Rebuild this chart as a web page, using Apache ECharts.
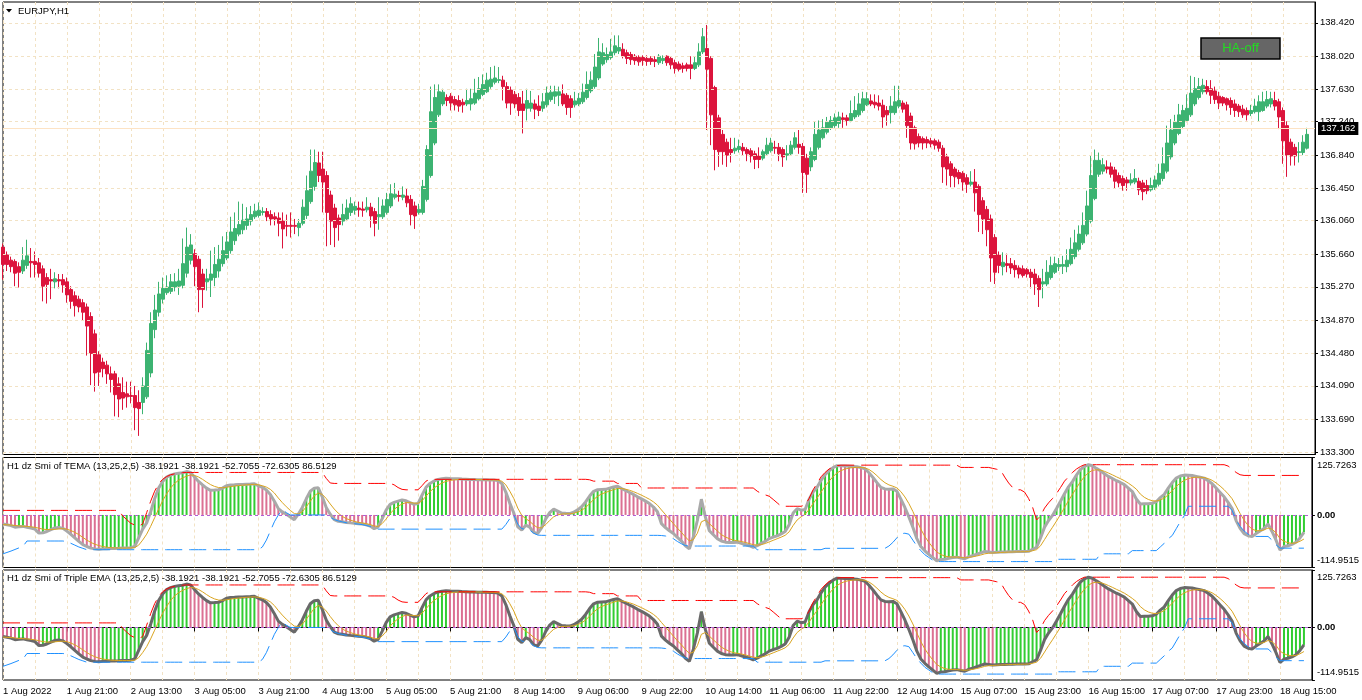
<!DOCTYPE html>
<html>
<head>
<meta charset="utf-8">
<script src="https://cdn.jsdelivr.net/npm/echarts@6.0.0/dist/echarts.min.js"></script>
<style>html,body{margin:0;padding:0;background:#fff}#c{width:1362px;height:700px}</style>
</head>
<body>
<div id="c"></div>
<script>
const rep = (v, n) => Array(n).fill(v);

const SYMBOL = 'EURJPY,H1';
const PANE1_TITLE = 'H1 dz Smi of TEMA (13,25,2,5) -38.1921 -38.1921 -52.7055 -72.6305 86.5129';
const PANE2_TITLE = 'H1 dz Smi of Triple EMA (13,25,2,5) -38.1921 -38.1921 -52.7055 -72.6305 86.5129';
const CURRENT_PRICE = 137.162;

const TICK_LABELS = ['1 Aug 2022','1 Aug 21:00','2 Aug 13:00','3 Aug 05:00','3 Aug 21:00','4 Aug 13:00','5 Aug 05:00','5 Aug 21:00','8 Aug 14:00','9 Aug 06:00','9 Aug 22:00','10 Aug 14:00','11 Aug 06:00','11 Aug 22:00','12 Aug 14:00','15 Aug 07:00','15 Aug 23:00','16 Aug 15:00','17 Aug 07:00','17 Aug 23:00','18 Aug 15:00'];
const PRICE_TICKS = [133.300,133.690,134.090,134.480,134.870,135.270,135.660,136.060,136.450,136.840,137.240,137.630,138.020,138.420];
const PANE_TICKS = [-114.9515, 0, 125.7263];

const OPEN = [
135.744,135.651,135.588,135.573,135.511,135.459,135.526,135.573,135.573,135.557,
135.485,135.381,135.356,135.330,135.356,135.356,135.330,135.237,135.164,135.123,
135.081,135.030,134.916,134.709,134.460,134.372,134.336,134.232,134.232,134.113,
134.010,133.994,133.974,133.974,133.891,133.891,133.958,134.243,134.760,134.967,
135.123,135.200,135.216,135.268,135.278,135.288,135.433,135.588,135.666,135.599,
135.423,135.330,135.350,135.381,135.459,135.547,135.614,135.702,135.821,135.899,
135.951,136.003,136.054,136.106,136.122,136.158,136.168,136.132,136.106,136.091,
136.054,136.003,136.003,136.003,135.977,136.028,136.122,136.287,136.468,136.748,
136.675,136.598,136.365,136.210,136.091,136.054,136.080,136.158,136.184,136.210,
136.199,136.189,136.220,136.168,136.106,136.106,136.158,136.235,136.339,136.360,
136.339,136.354,136.313,136.235,136.158,136.158,136.313,136.598,136.986,137.322,
137.452,137.529,137.545,137.504,137.493,137.472,137.452,137.452,137.462,137.514,
137.566,137.597,137.659,137.711,137.731,137.736,137.659,137.617,137.566,137.529,
137.452,137.400,137.400,137.452,137.426,137.400,137.441,137.504,137.545,137.555,
137.571,137.555,137.514,137.441,137.452,137.478,137.529,137.607,137.659,137.762,
137.928,137.980,138.006,138.063,138.083,138.104,138.063,138.042,138.021,138.006,
138.006,137.995,137.995,137.980,137.944,137.969,138.021,137.995,137.944,137.928,
137.907,137.918,137.918,137.876,137.918,138.073,138.114,137.995,137.648,137.286,
137.089,136.996,136.908,136.893,136.908,136.934,136.908,136.893,136.857,136.831,
136.805,136.857,136.893,136.934,136.934,136.908,136.841,136.857,136.934,136.970,
136.945,136.805,136.701,136.789,136.934,137.048,137.115,137.167,137.193,137.219,
137.286,137.286,137.255,137.297,137.322,137.374,137.441,137.488,137.472,137.462,
137.436,137.374,137.348,137.348,137.426,137.462,137.441,137.307,137.167,137.064,
137.038,137.027,137.012,137.012,136.996,136.924,136.820,136.738,136.675,136.634,
136.624,136.572,136.494,136.520,136.468,136.298,136.194,136.080,135.858,135.651,
135.511,135.547,135.547,135.526,135.495,135.485,135.475,135.444,135.423,135.371,
135.304,135.304,135.381,135.444,135.511,135.516,135.511,135.547,135.630,135.718,
135.795,135.899,136.054,136.323,136.613,136.650,136.701,136.701,136.665,136.598,
136.562,136.546,136.510,136.520,136.530,136.510,136.479,136.427,136.458,136.494,
136.562,136.650,136.820,136.986,137.100,137.183,137.255,137.322,137.452,137.529,
137.597,137.659,137.633,137.607,137.545,137.529,137.514,137.493,137.452,137.426,
137.390,137.374,137.338,137.359,137.359,137.374,137.426,137.452,137.493,137.478,
137.374,137.193,136.996,136.934,136.872,136.872,136.924];

const CLOSE = [
135.537,135.537,135.511,135.433,135.444,135.588,135.640,135.557,135.537,135.433,
135.278,135.299,135.340,135.366,135.340,135.293,135.174,135.097,135.045,135.030,
134.967,134.802,134.476,134.243,134.253,134.294,134.232,134.165,133.984,133.932,
133.943,133.958,133.963,133.829,133.818,134.088,134.512,134.833,134.993,135.185,
135.252,135.268,135.330,135.330,135.340,135.547,135.744,135.770,135.511,135.237,
135.237,135.366,135.423,135.537,135.599,135.702,135.806,135.925,135.966,136.013,
136.065,136.080,136.132,136.173,136.184,136.168,136.106,136.080,136.080,136.028,
135.961,135.992,135.992,135.992,136.028,136.220,136.417,136.650,136.753,136.598,
136.520,136.158,136.054,135.977,136.013,136.132,136.210,136.261,136.230,136.189,
136.184,136.220,136.116,136.028,136.132,136.235,136.313,136.380,136.375,136.349,
136.365,136.272,136.132,136.116,136.194,136.468,136.908,137.359,137.529,137.597,
137.592,137.493,137.462,137.441,137.426,137.441,137.493,137.514,137.581,137.633,
137.685,137.736,137.747,137.762,137.742,137.659,137.462,137.462,137.452,137.374,
137.374,137.493,137.462,137.390,137.374,137.478,137.581,137.592,137.597,137.597,
137.452,137.410,137.410,137.488,137.519,137.592,137.685,137.736,137.892,138.073,
138.063,138.042,138.073,138.145,138.125,138.021,137.995,137.980,137.969,137.954,
137.969,137.959,137.959,137.959,138.021,137.995,137.944,137.918,137.876,137.866,
137.876,137.876,137.876,137.944,138.073,138.254,137.866,137.322,136.908,136.882,
136.882,136.841,136.872,136.924,136.945,136.893,136.857,136.831,136.789,136.789,
136.882,136.960,136.986,136.924,136.857,136.820,136.857,136.960,137.048,136.934,
136.634,136.613,136.882,137.089,137.141,137.167,137.234,137.255,137.286,137.297,
137.265,137.255,137.338,137.374,137.452,137.514,137.514,137.452,137.441,137.426,
137.297,137.322,137.426,137.478,137.493,137.390,137.193,136.986,136.976,136.986,
136.986,136.986,136.976,136.960,136.924,136.701,136.675,136.598,136.582,136.562,
136.520,136.494,136.520,136.391,136.132,136.080,135.951,135.614,135.444,135.526,
135.563,135.526,135.495,135.475,135.423,135.407,135.423,135.381,135.304,135.237,
135.330,135.444,135.526,135.547,135.537,135.537,135.588,135.718,135.795,135.899,
136.003,136.235,136.598,136.779,136.779,136.727,136.675,136.613,136.530,136.510,
136.479,136.510,136.546,136.562,136.427,136.406,136.417,136.479,136.546,136.624,
136.738,136.986,137.141,137.234,137.322,137.374,137.400,137.581,137.633,137.659,
137.674,137.597,137.555,137.504,137.462,137.462,137.441,137.410,137.374,137.359,
137.322,137.322,137.374,137.426,137.478,137.478,137.504,137.514,137.426,137.297,
137.012,136.841,136.831,136.831,136.882,136.996,137.089];

const LOW = [
135.356,135.459,135.444,135.278,135.262,135.423,135.485,135.381,135.381,135.381,
135.097,135.071,135.123,135.252,135.252,135.200,135.081,135.009,134.916,134.967,
134.864,134.450,134.098,134.020,134.088,134.191,134.113,134.010,133.725,133.715,
133.803,133.829,133.880,133.560,133.492,133.751,133.932,134.191,134.657,134.916,
135.071,135.174,135.185,135.216,135.174,135.252,135.381,135.537,135.278,134.967,
135.019,135.226,135.149,135.278,135.381,135.511,135.588,135.666,135.770,135.873,
135.899,135.951,136.003,136.080,136.096,136.122,136.054,136.003,136.003,135.873,
135.728,135.873,135.858,135.899,135.873,136.003,136.080,136.261,136.417,136.520,
136.158,135.754,135.770,135.744,135.821,136.003,136.054,136.116,136.132,136.106,
136.106,136.158,135.977,135.873,135.951,136.080,136.132,136.210,136.313,136.287,
136.303,136.220,136.003,135.961,136.132,136.132,136.287,136.572,136.960,137.296,
137.426,137.426,137.374,137.374,137.359,137.348,137.426,137.374,137.441,137.493,
137.545,137.581,137.633,137.685,137.700,137.493,137.400,137.322,137.400,137.307,
137.100,137.255,137.359,137.271,137.307,137.359,137.410,137.478,137.452,137.426,
137.426,137.322,137.286,137.410,137.426,137.452,137.504,137.581,137.633,137.736,
137.907,137.944,137.980,138.032,138.047,137.995,137.928,137.918,137.918,137.907,
137.907,137.907,137.918,137.892,137.918,137.928,137.907,137.866,137.814,137.840,
137.824,137.840,137.747,137.856,137.892,138.047,137.141,136.960,136.660,136.701,
136.727,136.701,136.753,136.857,136.872,136.831,136.769,136.753,136.675,136.686,
136.779,136.831,136.872,136.857,136.769,136.701,136.779,136.831,136.908,136.857,
136.391,136.391,136.650,136.769,136.908,137.027,137.089,137.141,137.167,137.167,
137.167,137.193,137.234,137.271,137.297,137.348,137.426,137.426,137.400,137.374,
137.167,137.193,137.219,137.322,137.400,137.348,137.048,136.908,136.908,136.934,
136.908,136.924,136.934,136.908,136.882,136.510,136.479,136.458,136.458,136.494,
136.417,136.391,136.468,136.168,135.925,135.899,135.754,135.330,135.304,135.433,
135.407,135.444,135.423,135.381,135.371,135.381,135.381,135.252,135.174,135.030,
135.133,135.278,135.356,135.423,135.459,135.423,135.444,135.526,135.599,135.692,
135.770,135.873,136.028,136.303,136.582,136.613,136.624,136.572,136.443,136.458,
136.417,136.417,136.479,136.494,136.365,136.303,136.375,136.406,136.427,136.468,
136.530,136.624,136.789,136.960,137.079,137.152,137.234,137.297,137.426,137.504,
137.566,137.566,137.452,137.452,137.390,137.426,137.374,137.322,137.297,137.297,
137.286,137.255,137.307,137.338,137.245,137.359,137.400,137.410,137.374,137.152,
136.738,136.582,136.717,136.717,136.753,136.841,136.908];

const HIGH = [
135.785,135.692,135.630,135.599,135.562,135.744,135.832,135.733,135.692,135.614,
135.526,135.433,135.485,135.444,135.423,135.423,135.381,135.278,135.216,135.164,
135.123,135.071,134.967,134.760,134.502,134.424,134.388,134.320,134.268,134.191,
134.191,134.139,134.139,134.088,134.036,134.191,134.605,134.967,135.174,135.330,
135.381,135.407,135.423,135.433,135.485,135.847,135.977,135.899,135.718,135.640,
135.485,135.485,135.702,135.744,135.770,135.873,135.925,136.106,136.158,136.287,
136.261,136.220,136.235,136.261,136.277,136.220,136.210,136.184,136.158,136.158,
136.158,136.132,136.158,136.080,136.080,136.313,136.598,136.908,136.908,136.882,
136.882,136.650,136.417,136.261,136.132,136.261,136.313,136.339,136.287,136.287,
136.287,136.339,136.272,136.210,136.339,136.313,136.391,136.494,136.510,136.417,
136.468,136.443,136.365,136.287,136.261,136.546,136.960,137.659,137.685,137.685,
137.633,137.566,137.581,137.545,137.555,137.514,137.633,137.633,137.752,137.773,
137.804,137.824,137.892,137.907,137.892,137.788,137.711,137.659,137.607,137.581,
137.607,137.633,137.607,137.504,137.555,137.581,137.659,137.669,137.669,137.659,
137.685,137.581,137.555,137.597,137.581,137.695,137.840,137.840,138.047,138.239,
138.176,138.125,138.228,138.270,138.270,138.176,138.099,138.073,138.047,138.032,
138.032,138.032,138.021,138.021,138.047,138.032,138.032,138.021,137.980,137.959,
137.944,137.944,138.021,138.021,138.176,138.358,138.394,138.021,137.669,137.322,
137.141,137.038,137.048,137.048,137.027,136.986,136.934,136.924,136.893,136.934,
136.908,137.048,137.048,137.012,136.986,136.934,136.960,137.012,137.115,137.141,
136.986,136.857,136.934,137.245,137.255,137.271,137.297,137.307,137.338,137.359,
137.348,137.322,137.493,137.545,137.581,137.597,137.592,137.566,137.566,137.555,
137.504,137.426,137.545,137.669,137.669,137.493,137.478,137.348,137.193,137.100,
137.064,137.064,137.048,137.038,137.027,136.960,136.857,136.769,136.701,136.665,
136.650,136.613,136.650,136.675,136.494,136.339,136.235,136.132,135.899,135.692,
135.682,135.666,135.614,135.588,135.526,135.526,135.495,135.485,135.485,135.407,
135.485,135.588,135.630,135.630,135.614,135.640,135.718,135.858,135.951,136.003,
136.158,136.417,136.831,136.908,136.872,136.805,136.779,136.753,136.701,136.634,
136.598,136.582,136.624,136.675,136.572,136.546,136.546,136.572,136.598,136.738,
136.934,137.193,137.271,137.322,137.452,137.441,137.566,137.788,137.773,137.762,
137.752,137.736,137.736,137.659,137.597,137.545,137.529,137.529,137.504,137.452,
137.441,137.410,137.441,137.514,137.555,137.597,137.607,137.597,137.597,137.514,
137.410,137.245,137.038,136.976,136.996,137.079,137.167];

const SMI = [
-19.8,-21.6,-23.3,-26.8,-25.9,-25.0,-26.8,-28.5,-31.1,-39.7,
-38.8,-36.2,-31.9,-28.5,-27.6,-29.3,-35.4,-42.3,-50.1,-57.8,
-64.7,-69.0,-72.5,-74.2,-75.1,-74.2,-73.8,-73.4,-73.2,-72.9,
-72.5,-72.1,-71.6,-69.0,-50.1,-31.1,-17.3,6.9,35.4,58.7,
73.4,82.8,87.2,89.8,91.5,92.3,94.9,93.2,82.8,73.4,
65.6,58.7,53.9,54.4,55.2,58.7,63.9,65.6,66.0,66.5,
66.9,67.3,67.7,68.2,63.9,60.4,54.4,44.9,30.2,13.8,
6.9,1.7,-4.3,-10.4,1.7,16.4,35.4,51.8,58.7,59.5,
39.7,16.4,1.7,-10.4,-13.8,-14.7,-16.4,-17.3,-18.1,-19.0,
-19.8,-21.6,-24.2,-30.2,-25.9,-8.6,10.4,23.3,27.6,30.2,
32.8,31.1,26.8,23.3,25.0,43.2,60.4,69.0,74.2,77.7,
79.4,80.3,79.8,79.4,79.0,78.5,78.1,77.7,77.5,77.2,
77.1,76.8,76.5,76.3,75.1,69.0,50.1,25.9,4.3,-25.9,
-32.8,-22.4,-26.8,-38.0,-40.6,-27.6,-8.6,5.2,12.9,8.6,
4.3,3.5,3.0,6.0,11.2,18.1,28.5,41.4,51.8,55.2,
55.7,56.1,58.7,61.3,63.0,57.8,53.5,49.2,44.9,39.7,
35.4,30.2,25.0,17.3,6.9,-19.0,-27.6,-34.5,-40.6,-49.2,
-57.0,-67.3,-74.2,-47.5,-12.1,34.5,-4.3,-34.5,-43.2,-51.8,
-57.0,-59.5,-60.4,-60.0,-59.5,-62.1,-64.7,-67.3,-70.8,-67.3,
-62.1,-57.8,-51.8,-48.3,-45.7,-41.4,-36.2,-21.6,4.3,13.8,
10.4,12.1,34.5,50.1,60.4,75.9,88.0,96.7,103.6,107.9,
107.4,107.0,106.6,106.1,105.3,103.6,101.0,92.3,82.0,70.8,
60.4,57.0,56.1,57.0,51.8,34.5,16.4,-4.3,-26.8,-51.8,
-69.0,-78.5,-86.3,-93.2,-100.5,-97.5,-96.7,-94.9,-93.2,-92.3,
-94.1,-95.8,-91.5,-88.9,-86.0,-83.0,-80.0,-81.0,-82.0,-81.5,
-81.0,-80.8,-80.6,-80.4,-80.2,-80.0,-79.8,-79.5,-75.0,-71.0,
-50.3,-26.6,-12.3,-1.0,14.0,30.0,46.5,61.6,73.0,87.2,
99.6,106.2,110.0,107.6,101.9,96.7,90.1,84.4,79.7,74.9,
71.1,66.4,58.8,51.2,35.0,24.0,24.3,24.6,25.5,29.0,
38.0,45.0,58.8,71.0,80.6,85.3,87.2,86.8,86.3,84.4,
82.5,80.6,74.9,68.3,58.8,49.3,39.8,27.5,14.2,-12.3,
-29.4,-40.8,-45.5,-47.4,-40.8,-35.1,-29.4,-19.9,-36.0,-55.0,
-76.8,-69.2,-67.3,-64.5,-59.7,-50.3,-38.1921];

const SIGNAL = [
-21,-21.5,-22,-23,-24,-24.5,-25,-26,-27,-29,
-31,-32,-32,-31.5,-30.5,-30,-31,-34,-38,-43,
-49,-55,-60,-64,-67,-69,-70.5,-71.5,-72,-72.3,
-72.4,-72.3,-72.1,-71.5,-66,-55,-42,-25,-6,13,
31,46,59,69,76,81,85,87.5,86.5,83,
78,72,66.5,62.5,60,59.5,60.5,62,63.3,64.3,
65.2,65.9,66.5,67,66,64,61,56,48,37,
27,18,10,3,2,7,18,30,42,48,
45,36,24,13,4,-3,-8,-11,-14,-16,
-17.5,-19,-21,-24,-25,-19,-9,3,12,19,
24,27,27,26,25.5,31,41,51,59,65,
70,73.5,75.5,76.8,77.5,77.8,77.9,77.8,77.7,77.5,
77.3,77.1,76.9,76.7,76.2,73.8,66,52,36,15,
-1,-8,-14,-22,-28,-28,-21,-12,-4,0,
2,2.5,2.7,3.8,6.3,10.2,16.3,24.7,33.7,40.9,
45.8,49.2,52.4,55.4,57.9,57.9,56.4,54,51,47.2,
43.3,38.9,34.3,28.6,21.4,11,1,-9,-19,-29,
-38,-48,-57,-54,-40,-15,-11,-19,-27,-35,
-43,-48,-52,-55,-56.5,-58,-60,-62.5,-65,-66,
-65,-62.5,-59,-55.5,-52,-48.5,-44.5,-37,-23,-11,
-4,1.5,12,25,37,50,63,74,84,92,
97,100.5,102.5,103.7,104.2,104,103,99.5,93.6,86,
77.5,70.6,65.8,62.9,59.2,51,39.5,25,7.7,-12,
-31,-47,-60,-71,-81,-86.5,-90,-91.6,-92.1,-92.2,
-92.8,-93.8,-93,-91.6,-89.8,-87.7,-85.1,-83.7,-83.1,-82.6,
-82.1,-81.7,-81.3,-81,-80.7,-80.5,-80.3,-80,-78.3,-75.9,
-67.4,-53.8,-39.9,-26.9,-13.3,1.1,16.2,31.3,45.2,59.2,
72.6,83.8,92.5,97.5,99,98.2,95.5,91.8,87.8,83.5,
79.4,75,69.6,63.5,56.5,45.7,38.6,33.9,31.1,30.4,
32.9,36.9,44.2,53.1,62.3,69.9,75.7,79.4,81.7,82.6,
82.6,81.9,79.6,75.8,70.1,63.2,55.4,46.1,35.5,19.6,
3.3,-11.4,-22.8,-31,-34.3,-34.6,-32.8,-28.5,-31,-39,
-51.6,-57.5,-60.8,-62,-61.2,-57.6,-52.7055];

const UPPER = [...rep(10,30), -2,-10,-18,-22,-24,-20,5,30,52,68,78,84,88,90,91.5,92.5,
  ...rep(93,35), 80, 70, ...rep(69,15), 66,60,56, ...rep(55,4), 64,74, ...rep(78,40), 77,
  ...rep(74,6), ...rep(69,6), ...rep(59,29), 52,47,44,41,34,26.5, ...rep(19,6),
  22,36,55,69,83.5,93,100.5,105,108, ...rep(109,30), ...rep(104,7),
  104,102,100,98,83,70,60,55,55,50,36,17,-11,-2,15,26.5,36,47,60,74,83.5,93,100.5,106,
  ...rep(110,36), 107,100.5,93,88, ...rep(86.5129,16)];

const LOWER = [-85,-82,-79,-75.5,-72,-69, ...rep(-57,10), -58,-62,-66,-70,-73, ...rep(-76,44),
  -70,-55,-35,-15,0,12,5, ...rep(0,10), -5,-10,-13,-15,-17,-18,-19,-20,-21,-23,-25,-28,
  ...rep(-31,32), -21,-8,0,-20,-30,-31,-33,-40,-44, ...rep(-44.6,30),
  -45,-46,-48,-52,-58,-63,-67, ...rep(-68,17), ...rep(-76,17), ...rep(-73,16),
  -68,-60,-50,-41,-40,-42,-55,-68,-78,-87,-93,-99, ...rep(-102,30), ...rep(-97,11),
  ...rep(-85,8), ...rep(-78,7), -70,-62,-52,-45,-30,-15,-2, ...rep(19,11),
  10,-11,-25,-35,-42, ...rep(-47,5), -55,-65, ...rep(-72.6305,7)];

// hourly bar times (weekends skipped), plus two empty slots on the right
const MONTHS = ['Jan','Feb','Mar','Apr','May','Jun','Jul','Aug','Sep','Oct','Nov','Dec'];
function hourTimes(count) {
  const out = []; let t = Date.UTC(2022, 7, 1, 5);
  while (out.length < count) {
    const d = new Date(t), wd = d.getUTCDay(), h = d.getUTCHours();
    if (wd !== 0 && wd !== 6 && !(wd === 1 && h === 0))
      out.push(d.getUTCDate() + ' ' + MONTHS[d.getUTCMonth()] + ' ' + String(h).padStart(2, '0') + ':00');
    t += 3600000;
  }
  return out;
}
const N = CLOSE.length;
const CATS = hourTimes(N + 2);

const lens = [OPEN, CLOSE, LOW, HIGH, SMI, SIGNAL, UPPER, LOWER].map(a => a.length);
const bad = lens.some(l => l !== N);

const ohlc = OPEN.map((o, i) => [o, CLOSE[i], LOW[i], HIGH[i]]);
const histData = SMI.map((v, i) => ({
  value: v,
  itemStyle: { color: (i > 0 && v >= SMI[i - 1]) ? '#32CD32' : '#DB7093' }
}));

const FONT = 'Liberation Sans';
const GRID_COLOR = '#F2E2C4';
const LEFT = 3, RIGHT = 47;

function xAxisFor(idx, bottom) {
  return {
    type: 'category', gridIndex: idx, data: CATS, boundaryGap: false,
    axisLine: { show: bottom, lineStyle: { color: '#000', width: 1 } },
    axisTick: { show: bottom, interval: 15, length: 4, lineStyle: { color: '#000' } },
    axisLabel: {
      show: bottom, interval: 15, align: 'left', margin: 6,
      fontFamily: FONT, fontSize: 9.5, color: '#000',
      formatter: (v, i) => TICK_LABELS[i / 16] !== undefined ? TICK_LABELS[i / 16] : ''
    },
    splitLine: { show: true, interval: 7, lineStyle: { color: GRID_COLOR, type: [3, 3], width: 1 } }
  };
}
function paneYAxis(idx) {
  return {
    type: 'value', gridIndex: idx, position: 'right', min: -114.9515, max: 125.7263,
    splitLine: { show: false },
    axisLine: { show: true, lineStyle: { color: '#000' } },
    axisTick: { show: true, length: 3, customValues: PANE_TICKS, lineStyle: { color: '#000' } },
    axisLabel: {
      customValues: PANE_TICKS, margin: 5, fontFamily: FONT, fontSize: 9.5, color: '#000',
      formatter: v => v === 0 ? '{z|0.00}' : (v > 0 ? '{t|' + v.toFixed(4) + '}' : '{b|' + v.toFixed(4) + '}'),
      rich: {
        t: { padding: [15, 0, 0, 0], fontFamily: FONT, fontSize: 9.5, color: '#000' },
        b: { padding: [0, 0, 15, 0], fontFamily: FONT, fontSize: 9.5, color: '#000' },
        z: { fontFamily: FONT, fontSize: 9.5, color: '#000', fontWeight: 'bold' }
      }
    }
  };
}
function paneSeries(idx, smiColor) {
  return [
    { type: 'bar', xAxisIndex: idx, yAxisIndex: idx, data: histData, barWidth: 2, barGap: '0%',
      z: 2, silent: true,
      markLine: { silent: true, symbol: ['none', 'none'], label: { show: false },
        lineStyle: { color: '#B25FD6', type: [3, 3], width: 1 }, data: [{ yAxis: 0 }] } },
    { type: 'line', xAxisIndex: idx, yAxisIndex: idx, data: SMI, showSymbol: false, z: 3, silent: true,
      lineStyle: { color: smiColor, width: 3 } },
    { type: 'line', xAxisIndex: idx, yAxisIndex: idx, data: SIGNAL, showSymbol: false, z: 4, silent: true,
      lineStyle: { color: '#DAA520', width: 1 } },
    { type: 'line', xAxisIndex: idx, yAxisIndex: idx, data: UPPER, showSymbol: false, z: 5, silent: true,
      lineStyle: { color: '#FF0000', width: 1, type: [17, 7] } },
    { type: 'line', xAxisIndex: idx, yAxisIndex: idx, data: LOWER, showSymbol: false, z: 5, silent: true,
      lineStyle: { color: '#1E90FF', width: 1, type: [17, 7] } }
  ];
}

const option = {
  animation: false,
  backgroundColor: '#fff',
  textStyle: { fontFamily: FONT },
  grid: [
    { left: LEFT, right: RIGHT, top: 2, height: 452.5, show: true, borderColor: '#000', borderWidth: 1 },
    { left: LEFT, right: RIGHT, top: 457.5, height: 110, show: true, borderColor: '#000', borderWidth: 1 },
    { left: LEFT, right: RIGHT, top: 570, height: 110, show: true, borderColor: '#000', borderWidth: 1 }
  ],
  xAxis: [xAxisFor(0, false), xAxisFor(1, false), xAxisFor(2, true)],
  yAxis: [
    { type: 'value', gridIndex: 0, position: 'right', min: 133.27, max: 138.668, scale: true,
      splitLine: { show: false },
      axisLine: { show: true, lineStyle: { color: '#000' } },
      axisTick: { show: true, length: 3, customValues: PRICE_TICKS, lineStyle: { color: '#000' } },
      axisLabel: { customValues: PRICE_TICKS, formatter: v => v.toFixed(3), margin: 5,
        fontFamily: FONT, fontSize: 9.5, color: '#000' } },
    paneYAxis(1), paneYAxis(2)
  ],
  graphic: [
    { type: 'polygon', shape: { points: [[6, 9], [12, 9], [9, 12.5]] }, style: { fill: '#000' }, z: 100 },
    { type: 'text', x: 18, y: 11.5, style: { text: SYMBOL, fill: '#000', font: '9.5px "Liberation Sans"', verticalAlign: 'middle' }, z: 100 },
    { type: 'rect', shape: { x: 1201, y: 38, width: 79, height: 21 }, style: { fill: '#666666', stroke: '#000', lineWidth: 1.5 }, z: 100 },
    { type: 'text', x: 1240.5, y: 48.5, style: { text: 'HA-off', fill: '#22DD22', font: '13px "Liberation Sans"', align: 'center', verticalAlign: 'middle' }, z: 101 },
    { type: 'text', x: 7, y: 466.5, style: { text: PANE1_TITLE, fill: '#000', font: '9.5px "Liberation Sans"', verticalAlign: 'middle' }, z: 100 },
    { type: 'text', x: 7, y: 578.5, style: { text: PANE2_TITLE, fill: '#000', font: '9.5px "Liberation Sans"', verticalAlign: 'middle' }, z: 100 },
    { type: 'text', x: 400, y: 300, invisible: !bad, style: { text: 'LEN ' + lens.join(','), fill: '#f00', font: '20px sans-serif' }, z: 200 }
  ],
  series: [
    { type: 'line', xAxisIndex: 0, yAxisIndex: 0, data: [], z: 1, silent: true, showSymbol: false,
      markLine: { silent: true, symbol: ['none', 'none'],
        data: [
          ...PRICE_TICKS.map(v => ({ yAxis: v, label: { show: false },
            lineStyle: { color: GRID_COLOR, type: [3, 3], width: 1 } })),
          { yAxis: CURRENT_PRICE, lineStyle: { color: '#FDE3C4', type: 'solid', width: 1 },
            label: { show: true, position: 'end', distance: 3, formatter: CURRENT_PRICE.toFixed(3),
              backgroundColor: '#000', color: '#fff', padding: [2, 3, 1, 3],
              fontFamily: FONT, fontSize: 9.5 } }
        ] } },
    { type: 'candlestick', xAxisIndex: 0, yAxisIndex: 0, data: ohlc, barWidth: 3, clip: false, z: 3, silent: true,
      itemStyle: { color: '#3CB371', color0: '#DC143C', borderColor: '#3CB371', borderColor0: '#DC143C', borderWidth: 1 } },
    ...paneSeries(1, '#A9A9A9'),
    ...paneSeries(2, '#696969')
  ]
};

const chart = echarts.init(document.getElementById('c'), null, { renderer: 'canvas' });
chart.setOption(option);
</script>
</body>
</html>
